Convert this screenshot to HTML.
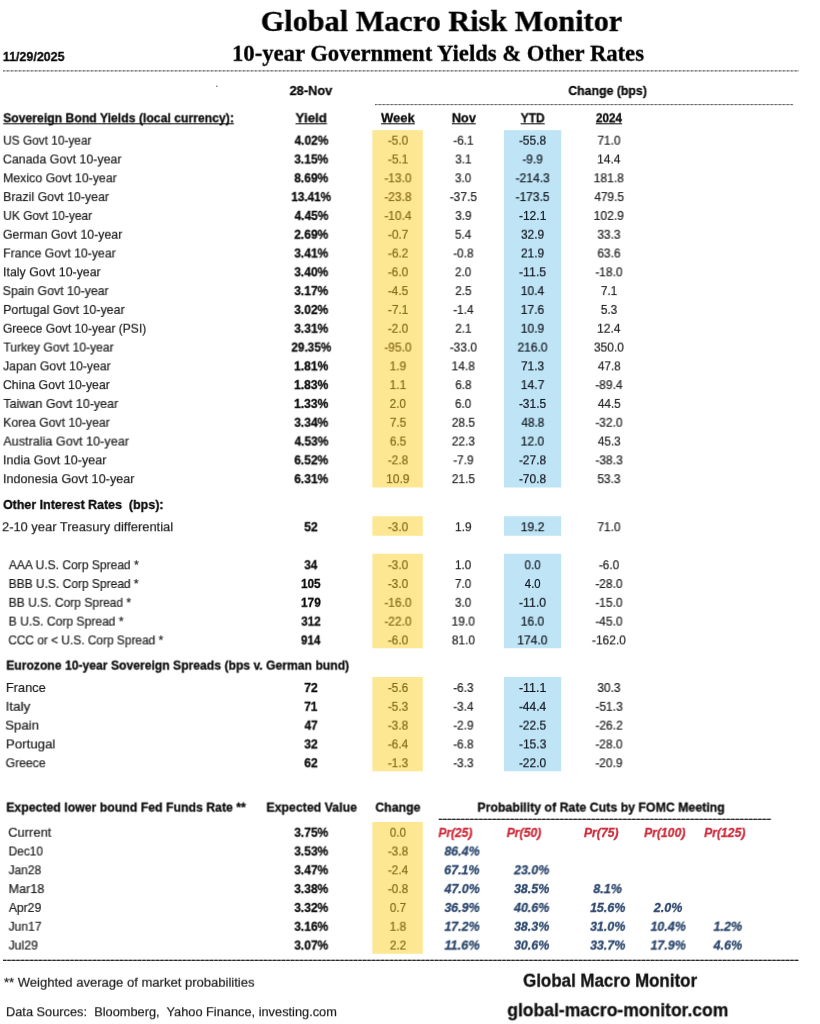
<!DOCTYPE html>
<html lang="en"><head><meta charset="utf-8"><title>Global Macro Risk Monitor</title>
<meta name="viewport" content="width=820">
<style>
html,body{margin:0;padding:0;background:#fff;}
body{width:820px;height:1024px;position:relative;overflow:hidden;font-family:"Liberation Sans", sans-serif;}
#sheet{position:absolute;left:0;top:0;width:820px;height:1024px;background:#fff;overflow:hidden;}
.t{position:absolute;left:0;top:0;white-space:pre;transform-origin:0 0;margin:0;padding:0;}
.u{text-decoration:underline;text-decoration-thickness:1px;text-underline-offset:0.5px;text-decoration-skip-ink:none;}
.t{-webkit-text-stroke:0.2px currentColor;}
.b{-webkit-text-stroke:0.3px currentColor;}
svg{position:absolute;left:0;top:0;}
</style></head>
<body>
<div id="sheet">
<svg width="820" height="1024" viewBox="0 0 820 1024" aria-hidden="true">
<rect x="372.4" y="130.15" width="50.40" height="357.35" fill="#fde793"/>
<rect x="504.0" y="130.15" width="57.20" height="357.35" fill="#bfe4f5"/>
<rect x="372.4" y="516.25" width="50.40" height="19.50" fill="#fde793"/>
<rect x="504.0" y="516.25" width="57.20" height="19.50" fill="#bfe4f5"/>
<rect x="372.4" y="553.75" width="50.40" height="94.50" fill="#fde793"/>
<rect x="504.0" y="553.75" width="57.20" height="94.50" fill="#bfe4f5"/>
<rect x="372.4" y="677.0" width="50.40" height="94.25" fill="#fde793"/>
<rect x="504.0" y="677.0" width="57.20" height="94.25" fill="#bfe4f5"/>
<rect x="372.4" y="822.0" width="50.40" height="131.75" fill="#fde793"/>
<line x1="3" y1="70.9" x2="799" y2="70.9" stroke="#8e8e8e" stroke-width="0.9"/>
<line x1="3" y1="70.9" x2="799" y2="70.9" stroke="#505050" stroke-width="0.9" stroke-dasharray="1.5 2.5"/>
<line x1="375" y1="104.6" x2="793.2" y2="104.6" stroke="#8e8e8e" stroke-width="0.9"/>
<line x1="375" y1="104.6" x2="793.2" y2="104.6" stroke="#505050" stroke-width="0.9" stroke-dasharray="1.5 2.5"/>
<line x1="438.75" y1="819.3" x2="771.25" y2="819.3" stroke="#4a4a4a" stroke-width="1.0"/>
<line x1="438.75" y1="819.3" x2="771.25" y2="819.3" stroke="#1a1a1a" stroke-width="1.0" stroke-dasharray="3 1.5"/>
<line x1="3" y1="960.3" x2="798.75" y2="960.3" stroke="#4a4a4a" stroke-width="1.0"/>
<line x1="3" y1="960.3" x2="798.75" y2="960.3" stroke="#1a1a1a" stroke-width="1.0" stroke-dasharray="3 1.5"/>
<circle cx="216.8" cy="86.3" r="0.8" fill="#666"/>
</svg>
<h1 class="t b" style='font-size:29.0px;line-height:36px;color:#000;transform:translate(260.74px,2.90px) rotateX(0.001deg) scaleX(1.0427);font-weight:700;font-family:"Liberation Serif", serif;'>Global Macro Risk Monitor</h1>
<h2 class="t b" style='font-size:22.2px;line-height:28px;color:#000;transform:translate(232.01px,39.80px) rotateX(0.001deg) scaleX(1.0207);font-weight:700;font-family:"Liberation Serif", serif;'>10-year Government Yields &amp; Other Rates</h2>
<span class="t b" style='font-size:13.4px;line-height:17px;color:#0a0a0a;transform:translate(2.80px,48.00px) rotateX(0.001deg) scaleX(0.9303);font-weight:700;'>11/29/2025</span>
<span class="t b" style='font-size:13.4px;line-height:17px;color:#0a0a0a;transform:translate(289.52px,82.00px) rotateX(0.001deg) scaleX(0.9543);font-weight:700;'>28-Nov</span>
<span class="t b" style='font-size:13.4px;line-height:17px;color:#0a0a0a;transform:translate(568.29px,82.00px) rotateX(0.001deg) scaleX(0.9189);font-weight:700;'>Change (bps)</span>
<span class="t b u" style='font-size:13.4px;line-height:17px;color:#0a0a0a;transform:translate(3.12px,109.30px) rotateX(0.001deg) scaleX(0.9122);font-weight:700;'>Sovereign Bond Yields (local currency):</span>
<span class="t b u" style='font-size:13.4px;line-height:17px;color:#0a0a0a;transform:translate(295.50px,109.30px) rotateX(0.001deg) scaleX(1.0000);font-weight:700;'>Yield</span>
<span class="t b u" style='font-size:13.4px;line-height:17px;color:#0a0a0a;transform:translate(381.01px,109.30px) rotateX(0.001deg) scaleX(0.9708);font-weight:700;'>Week</span>
<span class="t b u" style='font-size:13.4px;line-height:17px;color:#0a0a0a;transform:translate(451.79px,109.30px) rotateX(0.001deg) scaleX(0.9485);font-weight:700;'>Nov</span>
<span class="t b u" style='font-size:13.4px;line-height:17px;color:#0a0a0a;transform:translate(520.57px,109.30px) rotateX(0.001deg) scaleX(0.9020);font-weight:700;'>YTD</span>
<span class="t b u" style='font-size:13.4px;line-height:17px;color:#0a0a0a;transform:translate(595.81px,109.30px) rotateX(0.001deg) scaleX(0.8803);font-weight:700;'>2024</span>
<span class="t" style='font-size:13.4px;line-height:17px;color:#1c1c1c;transform:translate(3.22px,131.67px) rotateX(0.001deg) scaleX(0.8848);'>US Govt 10-year</span>
<span class="t b" style='font-size:13.4px;line-height:17px;color:#0a0a0a;transform:translate(294.43px,131.67px) rotateX(0.001deg) scaleX(0.8940);font-weight:700;'>4.02%</span>
<span class="t" style='font-size:13.4px;line-height:17px;color:#846a1a;transform:translate(387.74px,131.67px) rotateX(0.001deg) scaleX(0.8828);'>-5.0</span>
<span class="t" style='font-size:13.4px;line-height:17px;color:#1c1c1c;transform:translate(453.13px,131.67px) rotateX(0.001deg) scaleX(0.8930);'>-6.1</span>
<span class="t" style='font-size:13.4px;line-height:17px;color:#0e141e;transform:translate(518.88px,131.67px) rotateX(0.001deg) scaleX(0.8923);'>-55.8</span>
<span class="t" style='font-size:13.4px;line-height:17px;color:#1c1c1c;transform:translate(597.28px,131.67px) rotateX(0.001deg) scaleX(0.8929);'>71.0</span>
<span class="t" style='font-size:13.4px;line-height:17px;color:#1c1c1c;transform:translate(2.80px,150.47px) rotateX(0.001deg) scaleX(0.9272);'>Canada Govt 10-year</span>
<span class="t b" style='font-size:13.4px;line-height:17px;color:#0a0a0a;transform:translate(294.20px,150.47px) rotateX(0.001deg) scaleX(0.9000);font-weight:700;'>3.15%</span>
<span class="t" style='font-size:13.4px;line-height:17px;color:#846a1a;transform:translate(387.73px,150.47px) rotateX(0.001deg) scaleX(0.8930);'>-5.1</span>
<span class="t" style='font-size:13.4px;line-height:17px;color:#1c1c1c;transform:translate(455.14px,150.47px) rotateX(0.001deg) scaleX(0.8812);'>3.1</span>
<span class="t" style='font-size:13.4px;line-height:17px;color:#0e141e;transform:translate(522.34px,150.47px) rotateX(0.001deg) scaleX(0.8828);'>-9.9</span>
<span class="t" style='font-size:13.4px;line-height:17px;color:#1c1c1c;transform:translate(597.05px,150.47px) rotateX(0.001deg) scaleX(0.9020);'>14.4</span>
<span class="t" style='font-size:13.4px;line-height:17px;color:#1c1c1c;transform:translate(3.18px,169.28px) rotateX(0.001deg) scaleX(0.9194);'>Mexico Govt 10-year</span>
<span class="t b" style='font-size:13.4px;line-height:17px;color:#0a0a0a;transform:translate(294.20px,169.28px) rotateX(0.001deg) scaleX(0.9000);font-weight:700;'>8.69%</span>
<span class="t" style='font-size:13.4px;line-height:17px;color:#846a1a;transform:translate(384.28px,169.28px) rotateX(0.001deg) scaleX(0.8923);'>-13.0</span>
<span class="t" style='font-size:13.4px;line-height:17px;color:#1c1c1c;transform:translate(455.15px,169.28px) rotateX(0.001deg) scaleX(0.8686);'>3.0</span>
<span class="t" style='font-size:13.4px;line-height:17px;color:#0e141e;transform:translate(515.42px,169.28px) rotateX(0.001deg) scaleX(0.9041);'>-214.3</span>
<span class="t" style='font-size:13.4px;line-height:17px;color:#1c1c1c;transform:translate(593.59px,169.28px) rotateX(0.001deg) scaleX(0.9062);'>181.8</span>
<span class="t" style='font-size:13.4px;line-height:17px;color:#1c1c1c;transform:translate(3.18px,188.08px) rotateX(0.001deg) scaleX(0.9241);'>Brazil Govt 10-year</span>
<span class="t b" style='font-size:13.4px;line-height:17px;color:#0a0a0a;transform:translate(291.22px,188.08px) rotateX(0.001deg) scaleX(0.8780);font-weight:700;'>13.41%</span>
<span class="t" style='font-size:13.4px;line-height:17px;color:#846a1a;transform:translate(384.28px,188.08px) rotateX(0.001deg) scaleX(0.8923);'>-23.8</span>
<span class="t" style='font-size:13.4px;line-height:17px;color:#1c1c1c;transform:translate(449.68px,188.08px) rotateX(0.001deg) scaleX(0.8923);'>-37.5</span>
<span class="t" style='font-size:13.4px;line-height:17px;color:#0e141e;transform:translate(515.43px,188.08px) rotateX(0.001deg) scaleX(0.8980);'>-173.5</span>
<span class="t" style='font-size:13.4px;line-height:17px;color:#1c1c1c;transform:translate(594.28px,188.08px) rotateX(0.001deg) scaleX(0.8855);'>479.5</span>
<span class="t" style='font-size:13.4px;line-height:17px;color:#1c1c1c;transform:translate(3.21px,206.89px) rotateX(0.001deg) scaleX(0.8924);'>UK Govt 10-year</span>
<span class="t b" style='font-size:13.4px;line-height:17px;color:#0a0a0a;transform:translate(294.43px,206.89px) rotateX(0.001deg) scaleX(0.8940);font-weight:700;'>4.45%</span>
<span class="t" style='font-size:13.4px;line-height:17px;color:#846a1a;transform:translate(384.28px,206.89px) rotateX(0.001deg) scaleX(0.8923);'>-10.4</span>
<span class="t" style='font-size:13.4px;line-height:17px;color:#1c1c1c;transform:translate(455.14px,206.89px) rotateX(0.001deg) scaleX(0.8812);'>3.9</span>
<span class="t" style='font-size:13.4px;line-height:17px;color:#0e141e;transform:translate(518.88px,206.89px) rotateX(0.001deg) scaleX(0.9000);'>-12.1</span>
<span class="t" style='font-size:13.4px;line-height:17px;color:#1c1c1c;transform:translate(593.59px,206.89px) rotateX(0.001deg) scaleX(0.9062);'>102.9</span>
<span class="t" style='font-size:13.4px;line-height:17px;color:#1c1c1c;transform:translate(2.81px,225.69px) rotateX(0.001deg) scaleX(0.9222);'>German Govt 10-year</span>
<span class="t b" style='font-size:13.4px;line-height:17px;color:#0a0a0a;transform:translate(294.20px,225.69px) rotateX(0.001deg) scaleX(0.9000);font-weight:700;'>2.69%</span>
<span class="t" style='font-size:13.4px;line-height:17px;color:#846a1a;transform:translate(387.73px,225.69px) rotateX(0.001deg) scaleX(0.8930);'>-0.7</span>
<span class="t" style='font-size:13.4px;line-height:17px;color:#1c1c1c;transform:translate(455.15px,225.69px) rotateX(0.001deg) scaleX(0.8686);'>5.4</span>
<span class="t" style='font-size:13.4px;line-height:17px;color:#0e141e;transform:translate(520.88px,225.69px) rotateX(0.001deg) scaleX(0.8929);'>32.9</span>
<span class="t" style='font-size:13.4px;line-height:17px;color:#1c1c1c;transform:translate(597.28px,225.69px) rotateX(0.001deg) scaleX(0.8929);'>33.3</span>
<span class="t" style='font-size:13.4px;line-height:17px;color:#1c1c1c;transform:translate(3.18px,244.49px) rotateX(0.001deg) scaleX(0.9169);'>France Govt 10-year</span>
<span class="t b" style='font-size:13.4px;line-height:17px;color:#0a0a0a;transform:translate(294.20px,244.49px) rotateX(0.001deg) scaleX(0.9000);font-weight:700;'>3.41%</span>
<span class="t" style='font-size:13.4px;line-height:17px;color:#846a1a;transform:translate(387.73px,244.49px) rotateX(0.001deg) scaleX(0.8930);'>-6.2</span>
<span class="t" style='font-size:13.4px;line-height:17px;color:#1c1c1c;transform:translate(453.14px,244.49px) rotateX(0.001deg) scaleX(0.8828);'>-0.8</span>
<span class="t" style='font-size:13.4px;line-height:17px;color:#0e141e;transform:translate(520.88px,244.49px) rotateX(0.001deg) scaleX(0.8929);'>21.9</span>
<span class="t" style='font-size:13.4px;line-height:17px;color:#1c1c1c;transform:translate(597.28px,244.49px) rotateX(0.001deg) scaleX(0.8929);'>63.6</span>
<span class="t" style='font-size:13.4px;line-height:17px;color:#1c1c1c;transform:translate(2.94px,263.30px) rotateX(0.001deg) scaleX(0.9247);'>Italy Govt 10-year</span>
<span class="t b" style='font-size:13.4px;line-height:17px;color:#0a0a0a;transform:translate(294.20px,263.30px) rotateX(0.001deg) scaleX(0.9000);font-weight:700;'>3.40%</span>
<span class="t" style='font-size:13.4px;line-height:17px;color:#846a1a;transform:translate(387.74px,263.30px) rotateX(0.001deg) scaleX(0.8828);'>-6.0</span>
<span class="t" style='font-size:13.4px;line-height:17px;color:#1c1c1c;transform:translate(455.15px,263.30px) rotateX(0.001deg) scaleX(0.8686);'>2.0</span>
<span class="t" style='font-size:13.4px;line-height:17px;color:#0e141e;transform:translate(518.86px,263.30px) rotateX(0.001deg) scaleX(0.9239);'>-11.5</span>
<span class="t" style='font-size:13.4px;line-height:17px;color:#1c1c1c;transform:translate(595.28px,263.30px) rotateX(0.001deg) scaleX(0.8923);'>-18.0</span>
<span class="t" style='font-size:13.4px;line-height:17px;color:#1c1c1c;transform:translate(2.58px,282.10px) rotateX(0.001deg) scaleX(0.9190);'>Spain Govt 10-year</span>
<span class="t b" style='font-size:13.4px;line-height:17px;color:#0a0a0a;transform:translate(294.20px,282.10px) rotateX(0.001deg) scaleX(0.9000);font-weight:700;'>3.17%</span>
<span class="t" style='font-size:13.4px;line-height:17px;color:#846a1a;transform:translate(387.74px,282.10px) rotateX(0.001deg) scaleX(0.8828);'>-4.5</span>
<span class="t" style='font-size:13.4px;line-height:17px;color:#1c1c1c;transform:translate(455.14px,282.10px) rotateX(0.001deg) scaleX(0.8812);'>2.5</span>
<span class="t" style='font-size:13.4px;line-height:17px;color:#0e141e;transform:translate(520.65px,282.10px) rotateX(0.001deg) scaleX(0.9020);'>10.4</span>
<span class="t" style='font-size:13.4px;line-height:17px;color:#1c1c1c;transform:translate(600.74px,282.10px) rotateX(0.001deg) scaleX(0.8812);'>7.1</span>
<span class="t" style='font-size:13.4px;line-height:17px;color:#1c1c1c;transform:translate(3.17px,300.91px) rotateX(0.001deg) scaleX(0.9279);'>Portugal Govt 10-year</span>
<span class="t b" style='font-size:13.4px;line-height:17px;color:#0a0a0a;transform:translate(294.20px,300.91px) rotateX(0.001deg) scaleX(0.9000);font-weight:700;'>3.02%</span>
<span class="t" style='font-size:13.4px;line-height:17px;color:#846a1a;transform:translate(387.73px,300.91px) rotateX(0.001deg) scaleX(0.8930);'>-7.1</span>
<span class="t" style='font-size:13.4px;line-height:17px;color:#1c1c1c;transform:translate(453.14px,300.91px) rotateX(0.001deg) scaleX(0.8828);'>-1.4</span>
<span class="t" style='font-size:13.4px;line-height:17px;color:#0e141e;transform:translate(520.65px,300.91px) rotateX(0.001deg) scaleX(0.9020);'>17.6</span>
<span class="t" style='font-size:13.4px;line-height:17px;color:#1c1c1c;transform:translate(600.74px,300.91px) rotateX(0.001deg) scaleX(0.8812);'>5.3</span>
<span class="t" style='font-size:13.4px;line-height:17px;color:#1c1c1c;transform:translate(2.82px,319.71px) rotateX(0.001deg) scaleX(0.9002);'>Greece Govt 10-year (PSI)</span>
<span class="t b" style='font-size:13.4px;line-height:17px;color:#0a0a0a;transform:translate(294.20px,319.71px) rotateX(0.001deg) scaleX(0.9000);font-weight:700;'>3.31%</span>
<span class="t" style='font-size:13.4px;line-height:17px;color:#846a1a;transform:translate(387.74px,319.71px) rotateX(0.001deg) scaleX(0.8828);'>-2.0</span>
<span class="t" style='font-size:13.4px;line-height:17px;color:#1c1c1c;transform:translate(455.14px,319.71px) rotateX(0.001deg) scaleX(0.8812);'>2.1</span>
<span class="t" style='font-size:13.4px;line-height:17px;color:#0e141e;transform:translate(520.65px,319.71px) rotateX(0.001deg) scaleX(0.9020);'>10.9</span>
<span class="t" style='font-size:13.4px;line-height:17px;color:#1c1c1c;transform:translate(597.05px,319.71px) rotateX(0.001deg) scaleX(0.9020);'>12.4</span>
<span class="t" style='font-size:13.4px;line-height:17px;color:#1c1c1c;transform:translate(3.27px,338.51px) rotateX(0.001deg) scaleX(0.9091);'>Turkey Govt 10-year</span>
<span class="t b" style='font-size:13.4px;line-height:17px;color:#0a0a0a;transform:translate(291.44px,338.51px) rotateX(0.001deg) scaleX(0.8730);font-weight:700;'>29.35%</span>
<span class="t" style='font-size:13.4px;line-height:17px;color:#846a1a;transform:translate(384.28px,338.51px) rotateX(0.001deg) scaleX(0.8923);'>-95.0</span>
<span class="t" style='font-size:13.4px;line-height:17px;color:#1c1c1c;transform:translate(449.68px,338.51px) rotateX(0.001deg) scaleX(0.8923);'>-33.0</span>
<span class="t" style='font-size:13.4px;line-height:17px;color:#0e141e;transform:translate(517.43px,338.51px) rotateX(0.001deg) scaleX(0.8992);'>216.0</span>
<span class="t" style='font-size:13.4px;line-height:17px;color:#1c1c1c;transform:translate(593.83px,338.51px) rotateX(0.001deg) scaleX(0.8992);'>350.0</span>
<span class="t" style='font-size:13.4px;line-height:17px;color:#1c1c1c;transform:translate(3.04px,357.32px) rotateX(0.001deg) scaleX(0.9165);'>Japan Govt 10-year</span>
<span class="t b" style='font-size:13.4px;line-height:17px;color:#0a0a0a;transform:translate(293.97px,357.32px) rotateX(0.001deg) scaleX(0.9061);font-weight:700;'>1.81%</span>
<span class="t" style='font-size:13.4px;line-height:17px;color:#846a1a;transform:translate(389.51px,357.32px) rotateX(0.001deg) scaleX(0.8941);'>1.9</span>
<span class="t" style='font-size:13.4px;line-height:17px;color:#1c1c1c;transform:translate(451.45px,357.32px) rotateX(0.001deg) scaleX(0.9020);'>14.8</span>
<span class="t" style='font-size:13.4px;line-height:17px;color:#0e141e;transform:translate(520.88px,357.32px) rotateX(0.001deg) scaleX(0.8929);'>71.3</span>
<span class="t" style='font-size:13.4px;line-height:17px;color:#1c1c1c;transform:translate(597.73px,357.32px) rotateX(0.001deg) scaleX(0.8752);'>47.8</span>
<span class="t" style='font-size:13.4px;line-height:17px;color:#1c1c1c;transform:translate(2.81px,376.12px) rotateX(0.001deg) scaleX(0.9217);'>China Govt 10-year</span>
<span class="t b" style='font-size:13.4px;line-height:17px;color:#0a0a0a;transform:translate(293.97px,376.12px) rotateX(0.001deg) scaleX(0.9061);font-weight:700;'>1.83%</span>
<span class="t" style='font-size:13.4px;line-height:17px;color:#846a1a;transform:translate(389.51px,376.12px) rotateX(0.001deg) scaleX(0.8941);'>1.1</span>
<span class="t" style='font-size:13.4px;line-height:17px;color:#1c1c1c;transform:translate(455.14px,376.12px) rotateX(0.001deg) scaleX(0.8812);'>6.8</span>
<span class="t" style='font-size:13.4px;line-height:17px;color:#0e141e;transform:translate(520.64px,376.12px) rotateX(0.001deg) scaleX(0.9113);'>14.7</span>
<span class="t" style='font-size:13.4px;line-height:17px;color:#1c1c1c;transform:translate(595.28px,376.12px) rotateX(0.001deg) scaleX(0.8923);'>-89.4</span>
<span class="t" style='font-size:13.4px;line-height:17px;color:#1c1c1c;transform:translate(3.27px,394.93px) rotateX(0.001deg) scaleX(0.9366);'>Taiwan Govt 10-year</span>
<span class="t b" style='font-size:13.4px;line-height:17px;color:#0a0a0a;transform:translate(293.97px,394.93px) rotateX(0.001deg) scaleX(0.9061);font-weight:700;'>1.33%</span>
<span class="t" style='font-size:13.4px;line-height:17px;color:#846a1a;transform:translate(389.75px,394.93px) rotateX(0.001deg) scaleX(0.8686);'>2.0</span>
<span class="t" style='font-size:13.4px;line-height:17px;color:#1c1c1c;transform:translate(455.15px,394.93px) rotateX(0.001deg) scaleX(0.8686);'>6.0</span>
<span class="t" style='font-size:13.4px;line-height:17px;color:#0e141e;transform:translate(518.88px,394.93px) rotateX(0.001deg) scaleX(0.8923);'>-31.5</span>
<span class="t" style='font-size:13.4px;line-height:17px;color:#1c1c1c;transform:translate(597.73px,394.93px) rotateX(0.001deg) scaleX(0.8752);'>44.5</span>
<span class="t" style='font-size:13.4px;line-height:17px;color:#1c1c1c;transform:translate(3.19px,413.73px) rotateX(0.001deg) scaleX(0.9126);'>Korea Govt 10-year</span>
<span class="t b" style='font-size:13.4px;line-height:17px;color:#0a0a0a;transform:translate(294.20px,413.73px) rotateX(0.001deg) scaleX(0.9000);font-weight:700;'>3.34%</span>
<span class="t" style='font-size:13.4px;line-height:17px;color:#846a1a;transform:translate(389.74px,413.73px) rotateX(0.001deg) scaleX(0.8812);'>7.5</span>
<span class="t" style='font-size:13.4px;line-height:17px;color:#1c1c1c;transform:translate(451.68px,413.73px) rotateX(0.001deg) scaleX(0.8929);'>28.5</span>
<span class="t" style='font-size:13.4px;line-height:17px;color:#0e141e;transform:translate(521.33px,413.73px) rotateX(0.001deg) scaleX(0.8752);'>48.8</span>
<span class="t" style='font-size:13.4px;line-height:17px;color:#1c1c1c;transform:translate(595.28px,413.73px) rotateX(0.001deg) scaleX(0.8923);'>-32.0</span>
<span class="t" style='font-size:13.4px;line-height:17px;color:#1c1c1c;transform:translate(3.26px,432.53px) rotateX(0.001deg) scaleX(0.9435);'>Australia Govt 10-year</span>
<span class="t b" style='font-size:13.4px;line-height:17px;color:#0a0a0a;transform:translate(294.43px,432.53px) rotateX(0.001deg) scaleX(0.8940);font-weight:700;'>4.53%</span>
<span class="t" style='font-size:13.4px;line-height:17px;color:#846a1a;transform:translate(389.74px,432.53px) rotateX(0.001deg) scaleX(0.8812);'>6.5</span>
<span class="t" style='font-size:13.4px;line-height:17px;color:#1c1c1c;transform:translate(451.68px,432.53px) rotateX(0.001deg) scaleX(0.8929);'>22.3</span>
<span class="t" style='font-size:13.4px;line-height:17px;color:#0e141e;transform:translate(520.65px,432.53px) rotateX(0.001deg) scaleX(0.9020);'>12.0</span>
<span class="t" style='font-size:13.4px;line-height:17px;color:#1c1c1c;transform:translate(597.73px,432.53px) rotateX(0.001deg) scaleX(0.8752);'>45.3</span>
<span class="t" style='font-size:13.4px;line-height:17px;color:#1c1c1c;transform:translate(2.93px,451.34px) rotateX(0.001deg) scaleX(0.9393);'>India Govt 10-year</span>
<span class="t b" style='font-size:13.4px;line-height:17px;color:#0a0a0a;transform:translate(294.20px,451.34px) rotateX(0.001deg) scaleX(0.9000);font-weight:700;'>6.52%</span>
<span class="t" style='font-size:13.4px;line-height:17px;color:#846a1a;transform:translate(387.74px,451.34px) rotateX(0.001deg) scaleX(0.8828);'>-2.8</span>
<span class="t" style='font-size:13.4px;line-height:17px;color:#1c1c1c;transform:translate(453.14px,451.34px) rotateX(0.001deg) scaleX(0.8828);'>-7.9</span>
<span class="t" style='font-size:13.4px;line-height:17px;color:#0e141e;transform:translate(518.88px,451.34px) rotateX(0.001deg) scaleX(0.8923);'>-27.8</span>
<span class="t" style='font-size:13.4px;line-height:17px;color:#1c1c1c;transform:translate(595.28px,451.34px) rotateX(0.001deg) scaleX(0.9000);'>-38.3</span>
<span class="t" style='font-size:13.4px;line-height:17px;color:#1c1c1c;transform:translate(2.92px,470.14px) rotateX(0.001deg) scaleX(0.9448);'>Indonesia Govt 10-year</span>
<span class="t b" style='font-size:13.4px;line-height:17px;color:#0a0a0a;transform:translate(294.20px,470.14px) rotateX(0.001deg) scaleX(0.9000);font-weight:700;'>6.31%</span>
<span class="t" style='font-size:13.4px;line-height:17px;color:#846a1a;transform:translate(386.05px,470.14px) rotateX(0.001deg) scaleX(0.9020);'>10.9</span>
<span class="t" style='font-size:13.4px;line-height:17px;color:#1c1c1c;transform:translate(451.68px,470.14px) rotateX(0.001deg) scaleX(0.8929);'>21.5</span>
<span class="t" style='font-size:13.4px;line-height:17px;color:#0e141e;transform:translate(518.88px,470.14px) rotateX(0.001deg) scaleX(0.8923);'>-70.8</span>
<span class="t" style='font-size:13.4px;line-height:17px;color:#1c1c1c;transform:translate(597.28px,470.14px) rotateX(0.001deg) scaleX(0.8929);'>53.3</span>
<span class="t b" style='font-size:13.4px;line-height:17px;color:#0a0a0a;transform:translate(3.04px,496.00px) rotateX(0.001deg) scaleX(0.9298);font-weight:700;'>Other Interest Rates  (bps):</span>
<span class="t" style='font-size:13.4px;line-height:17px;color:#1c1c1c;transform:translate(1.98px,518.20px) rotateX(0.001deg) scaleX(0.9634);'>2-10 year Treasury differential</span>
<span class="t b" style='font-size:13.4px;line-height:17px;color:#0a0a0a;transform:translate(304.14px,518.20px) rotateX(0.001deg) scaleX(0.9164);font-weight:700;'>52</span>
<span class="t" style='font-size:13.4px;line-height:17px;color:#846a1a;transform:translate(387.74px,518.20px) rotateX(0.001deg) scaleX(0.8828);'>-3.0</span>
<span class="t" style='font-size:13.4px;line-height:17px;color:#1c1c1c;transform:translate(454.91px,518.20px) rotateX(0.001deg) scaleX(0.8941);'>1.9</span>
<span class="t" style='font-size:13.4px;line-height:17px;color:#0e141e;transform:translate(520.64px,518.20px) rotateX(0.001deg) scaleX(0.9113);'>19.2</span>
<span class="t" style='font-size:13.4px;line-height:17px;color:#1c1c1c;transform:translate(597.28px,518.20px) rotateX(0.001deg) scaleX(0.8929);'>71.0</span>
<span class="t" style='font-size:13.4px;line-height:17px;color:#1c1c1c;transform:translate(8.68px,556.20px) rotateX(0.001deg) scaleX(0.8998);'>AAA U.S. Corp Spread *</span>
<span class="t b" style='font-size:13.4px;line-height:17px;color:#0a0a0a;transform:translate(304.16px,556.20px) rotateX(0.001deg) scaleX(0.8842);font-weight:700;'>34</span>
<span class="t" style='font-size:13.4px;line-height:17px;color:#846a1a;transform:translate(387.74px,556.20px) rotateX(0.001deg) scaleX(0.8828);'>-3.0</span>
<span class="t" style='font-size:13.4px;line-height:17px;color:#1c1c1c;transform:translate(454.92px,556.20px) rotateX(0.001deg) scaleX(0.8812);'>1.0</span>
<span class="t" style='font-size:13.4px;line-height:17px;color:#0e141e;transform:translate(524.57px,556.20px) rotateX(0.001deg) scaleX(0.8563);'>0.0</span>
<span class="t" style='font-size:13.4px;line-height:17px;color:#1c1c1c;transform:translate(598.74px,556.20px) rotateX(0.001deg) scaleX(0.8828);'>-6.0</span>
<span class="t" style='font-size:13.4px;line-height:17px;color:#1c1c1c;transform:translate(8.60px,575.00px) rotateX(0.001deg) scaleX(0.8957);'>BBB U.S. Corp Spread *</span>
<span class="t b" style='font-size:13.4px;line-height:17px;color:#0a0a0a;transform:translate(300.89px,575.00px) rotateX(0.001deg) scaleX(0.8800);font-weight:700;'>105</span>
<span class="t" style='font-size:13.4px;line-height:17px;color:#846a1a;transform:translate(387.74px,575.00px) rotateX(0.001deg) scaleX(0.8828);'>-3.0</span>
<span class="t" style='font-size:13.4px;line-height:17px;color:#1c1c1c;transform:translate(455.15px,575.00px) rotateX(0.001deg) scaleX(0.8686);'>7.0</span>
<span class="t" style='font-size:13.4px;line-height:17px;color:#0e141e;transform:translate(524.79px,575.00px) rotateX(0.001deg) scaleX(0.8444);'>4.0</span>
<span class="t" style='font-size:13.4px;line-height:17px;color:#1c1c1c;transform:translate(595.28px,575.00px) rotateX(0.001deg) scaleX(0.8923);'>-28.0</span>
<span class="t" style='font-size:13.4px;line-height:17px;color:#1c1c1c;transform:translate(8.60px,593.81px) rotateX(0.001deg) scaleX(0.8998);'>BB U.S. Corp Spread *</span>
<span class="t b" style='font-size:13.4px;line-height:17px;color:#0a0a0a;transform:translate(300.88px,593.81px) rotateX(0.001deg) scaleX(0.8905);font-weight:700;'>179</span>
<span class="t" style='font-size:13.4px;line-height:17px;color:#846a1a;transform:translate(384.28px,593.81px) rotateX(0.001deg) scaleX(0.8923);'>-16.0</span>
<span class="t" style='font-size:13.4px;line-height:17px;color:#1c1c1c;transform:translate(455.15px,593.81px) rotateX(0.001deg) scaleX(0.8686);'>3.0</span>
<span class="t" style='font-size:13.4px;line-height:17px;color:#0e141e;transform:translate(518.86px,593.81px) rotateX(0.001deg) scaleX(0.9239);'>-11.0</span>
<span class="t" style='font-size:13.4px;line-height:17px;color:#1c1c1c;transform:translate(595.28px,593.81px) rotateX(0.001deg) scaleX(0.8923);'>-15.0</span>
<span class="t" style='font-size:13.4px;line-height:17px;color:#1c1c1c;transform:translate(8.60px,612.61px) rotateX(0.001deg) scaleX(0.9028);'>B U.S. Corp Spread *</span>
<span class="t b" style='font-size:13.4px;line-height:17px;color:#0a0a0a;transform:translate(301.11px,612.61px) rotateX(0.001deg) scaleX(0.8800);font-weight:700;'>312</span>
<span class="t" style='font-size:13.4px;line-height:17px;color:#846a1a;transform:translate(384.28px,612.61px) rotateX(0.001deg) scaleX(0.8923);'>-22.0</span>
<span class="t" style='font-size:13.4px;line-height:17px;color:#1c1c1c;transform:translate(451.45px,612.61px) rotateX(0.001deg) scaleX(0.9020);'>19.0</span>
<span class="t" style='font-size:13.4px;line-height:17px;color:#0e141e;transform:translate(520.65px,612.61px) rotateX(0.001deg) scaleX(0.9020);'>16.0</span>
<span class="t" style='font-size:13.4px;line-height:17px;color:#1c1c1c;transform:translate(595.28px,612.61px) rotateX(0.001deg) scaleX(0.8923);'>-45.0</span>
<span class="t" style='font-size:13.4px;line-height:17px;color:#1c1c1c;transform:translate(8.23px,631.42px) rotateX(0.001deg) scaleX(0.8882);'>CCC or &lt; U.S. Corp Spread *</span>
<span class="t b" style='font-size:13.4px;line-height:17px;color:#0a0a0a;transform:translate(301.12px,631.42px) rotateX(0.001deg) scaleX(0.8598);font-weight:700;'>914</span>
<span class="t" style='font-size:13.4px;line-height:17px;color:#846a1a;transform:translate(387.74px,631.42px) rotateX(0.001deg) scaleX(0.8828);'>-6.0</span>
<span class="t" style='font-size:13.4px;line-height:17px;color:#1c1c1c;transform:translate(451.68px,631.42px) rotateX(0.001deg) scaleX(0.8929);'>81.0</span>
<span class="t" style='font-size:13.4px;line-height:17px;color:#0e141e;transform:translate(517.19px,631.42px) rotateX(0.001deg) scaleX(0.9062);'>174.0</span>
<span class="t" style='font-size:13.4px;line-height:17px;color:#1c1c1c;transform:translate(591.83px,631.42px) rotateX(0.001deg) scaleX(0.8980);'>-162.0</span>
<span class="t b" style='font-size:13.4px;line-height:17px;color:#0a0a0a;transform:translate(6.22px,656.60px) rotateX(0.001deg) scaleX(0.9080);font-weight:700;'>Eurozone 10-year Sovereign Spreads (bps v. German bund)</span>
<span class="t" style='font-size:13.4px;line-height:17px;color:#1c1c1c;transform:translate(5.84px,679.00px) rotateX(0.001deg) scaleX(0.9550);'>France</span>
<span class="t b" style='font-size:13.4px;line-height:17px;color:#0a0a0a;transform:translate(304.14px,679.00px) rotateX(0.001deg) scaleX(0.9164);font-weight:700;'>72</span>
<span class="t" style='font-size:13.4px;line-height:17px;color:#846a1a;transform:translate(387.74px,679.00px) rotateX(0.001deg) scaleX(0.8828);'>-5.6</span>
<span class="t" style='font-size:13.4px;line-height:17px;color:#1c1c1c;transform:translate(453.14px,679.00px) rotateX(0.001deg) scaleX(0.8828);'>-6.3</span>
<span class="t" style='font-size:13.4px;line-height:17px;color:#0e141e;transform:translate(518.85px,679.00px) rotateX(0.001deg) scaleX(0.9321);'>-11.1</span>
<span class="t" style='font-size:13.4px;line-height:17px;color:#1c1c1c;transform:translate(597.28px,679.00px) rotateX(0.001deg) scaleX(0.8929);'>30.3</span>
<span class="t" style='font-size:13.4px;line-height:17px;color:#1c1c1c;transform:translate(5.54px,697.80px) rotateX(0.001deg) scaleX(1.0087);'>Italy</span>
<span class="t b" style='font-size:13.4px;line-height:17px;color:#0a0a0a;transform:translate(304.15px,697.80px) rotateX(0.001deg) scaleX(0.9000);font-weight:700;'>71</span>
<span class="t" style='font-size:13.4px;line-height:17px;color:#846a1a;transform:translate(387.74px,697.80px) rotateX(0.001deg) scaleX(0.8828);'>-5.3</span>
<span class="t" style='font-size:13.4px;line-height:17px;color:#1c1c1c;transform:translate(453.14px,697.80px) rotateX(0.001deg) scaleX(0.8828);'>-3.4</span>
<span class="t" style='font-size:13.4px;line-height:17px;color:#0e141e;transform:translate(518.88px,697.80px) rotateX(0.001deg) scaleX(0.8923);'>-44.4</span>
<span class="t" style='font-size:13.4px;line-height:17px;color:#1c1c1c;transform:translate(595.28px,697.80px) rotateX(0.001deg) scaleX(0.9000);'>-51.3</span>
<span class="t" style='font-size:13.4px;line-height:17px;color:#1c1c1c;transform:translate(5.21px,716.61px) rotateX(0.001deg) scaleX(0.9862);'>Spain</span>
<span class="t b" style='font-size:13.4px;line-height:17px;color:#0a0a0a;transform:translate(304.38px,716.61px) rotateX(0.001deg) scaleX(0.9000);font-weight:700;'>47</span>
<span class="t" style='font-size:13.4px;line-height:17px;color:#846a1a;transform:translate(387.74px,716.61px) rotateX(0.001deg) scaleX(0.8828);'>-3.8</span>
<span class="t" style='font-size:13.4px;line-height:17px;color:#1c1c1c;transform:translate(453.14px,716.61px) rotateX(0.001deg) scaleX(0.8828);'>-2.9</span>
<span class="t" style='font-size:13.4px;line-height:17px;color:#0e141e;transform:translate(518.88px,716.61px) rotateX(0.001deg) scaleX(0.8923);'>-22.5</span>
<span class="t" style='font-size:13.4px;line-height:17px;color:#1c1c1c;transform:translate(595.28px,716.61px) rotateX(0.001deg) scaleX(0.9000);'>-26.2</span>
<span class="t" style='font-size:13.4px;line-height:17px;color:#1c1c1c;transform:translate(5.81px,735.41px) rotateX(0.001deg) scaleX(0.9938);'>Portugal</span>
<span class="t b" style='font-size:13.4px;line-height:17px;color:#0a0a0a;transform:translate(304.14px,735.41px) rotateX(0.001deg) scaleX(0.9164);font-weight:700;'>32</span>
<span class="t" style='font-size:13.4px;line-height:17px;color:#846a1a;transform:translate(387.74px,735.41px) rotateX(0.001deg) scaleX(0.8828);'>-6.4</span>
<span class="t" style='font-size:13.4px;line-height:17px;color:#1c1c1c;transform:translate(453.14px,735.41px) rotateX(0.001deg) scaleX(0.8828);'>-6.8</span>
<span class="t" style='font-size:13.4px;line-height:17px;color:#0e141e;transform:translate(518.88px,735.41px) rotateX(0.001deg) scaleX(0.9000);'>-15.3</span>
<span class="t" style='font-size:13.4px;line-height:17px;color:#1c1c1c;transform:translate(595.28px,735.41px) rotateX(0.001deg) scaleX(0.8923);'>-28.0</span>
<span class="t" style='font-size:13.4px;line-height:17px;color:#1c1c1c;transform:translate(5.52px,754.22px) rotateX(0.001deg) scaleX(0.9129);'>Greece</span>
<span class="t b" style='font-size:13.4px;line-height:17px;color:#0a0a0a;transform:translate(304.14px,754.22px) rotateX(0.001deg) scaleX(0.9164);font-weight:700;'>62</span>
<span class="t" style='font-size:13.4px;line-height:17px;color:#846a1a;transform:translate(387.74px,754.22px) rotateX(0.001deg) scaleX(0.8828);'>-1.3</span>
<span class="t" style='font-size:13.4px;line-height:17px;color:#1c1c1c;transform:translate(453.14px,754.22px) rotateX(0.001deg) scaleX(0.8828);'>-3.3</span>
<span class="t" style='font-size:13.4px;line-height:17px;color:#0e141e;transform:translate(518.88px,754.22px) rotateX(0.001deg) scaleX(0.8923);'>-22.0</span>
<span class="t" style='font-size:13.4px;line-height:17px;color:#1c1c1c;transform:translate(595.28px,754.22px) rotateX(0.001deg) scaleX(0.8923);'>-20.9</span>
<span class="t b" style='font-size:13.4px;line-height:17px;color:#0a0a0a;transform:translate(6.21px,798.60px) rotateX(0.001deg) scaleX(0.9178);font-weight:700;'>Expected lower bound Fed Funds Rate **</span>
<span class="t b" style='font-size:13.4px;line-height:17px;color:#0a0a0a;transform:translate(266.31px,798.60px) rotateX(0.001deg) scaleX(0.9227);font-weight:700;'>Expected Value</span>
<span class="t b" style='font-size:13.4px;line-height:17px;color:#0a0a0a;transform:translate(375.29px,798.60px) rotateX(0.001deg) scaleX(0.9219);font-weight:700;'>Change</span>
<span class="t b" style='font-size:13.4px;line-height:17px;color:#0a0a0a;transform:translate(477.31px,798.60px) rotateX(0.001deg) scaleX(0.9214);font-weight:700;'>Probability of Rate Cuts by FOMC Meeting</span>
<span class="t" style='font-size:13.4px;line-height:17px;color:#1c1c1c;transform:translate(8.17px,823.70px) rotateX(0.001deg) scaleX(0.9680);'>Current</span>
<span class="t b" style='font-size:13.4px;line-height:17px;color:#0a0a0a;transform:translate(294.20px,823.70px) rotateX(0.001deg) scaleX(0.9000);font-weight:700;'>3.75%</span>
<span class="t" style='font-size:13.4px;line-height:17px;color:#846a1a;transform:translate(389.97px,823.70px) rotateX(0.001deg) scaleX(0.8563);'>0.0</span>
<span class="t" style='font-size:13.4px;line-height:17px;color:#1c1c1c;transform:translate(8.61px,842.50px) rotateX(0.001deg) scaleX(0.8859);'>Dec10</span>
<span class="t b" style='font-size:13.4px;line-height:17px;color:#0a0a0a;transform:translate(294.20px,842.50px) rotateX(0.001deg) scaleX(0.9000);font-weight:700;'>3.53%</span>
<span class="t" style='font-size:13.4px;line-height:17px;color:#846a1a;transform:translate(387.74px,842.50px) rotateX(0.001deg) scaleX(0.8828);'>-3.8</span>
<span class="t" style='font-size:13.4px;line-height:17px;color:#1c1c1c;transform:translate(8.45px,861.31px) rotateX(0.001deg) scaleX(0.8972);'>Jan28</span>
<span class="t b" style='font-size:13.4px;line-height:17px;color:#0a0a0a;transform:translate(294.20px,861.31px) rotateX(0.001deg) scaleX(0.9000);font-weight:700;'>3.47%</span>
<span class="t" style='font-size:13.4px;line-height:17px;color:#846a1a;transform:translate(387.74px,861.31px) rotateX(0.001deg) scaleX(0.8828);'>-2.4</span>
<span class="t" style='font-size:13.4px;line-height:17px;color:#1c1c1c;transform:translate(8.56px,880.11px) rotateX(0.001deg) scaleX(0.9448);'>Mar18</span>
<span class="t b" style='font-size:13.4px;line-height:17px;color:#0a0a0a;transform:translate(294.20px,880.11px) rotateX(0.001deg) scaleX(0.9000);font-weight:700;'>3.38%</span>
<span class="t" style='font-size:13.4px;line-height:17px;color:#846a1a;transform:translate(387.74px,880.11px) rotateX(0.001deg) scaleX(0.8828);'>-0.8</span>
<span class="t" style='font-size:13.4px;line-height:17px;color:#1c1c1c;transform:translate(8.67px,898.92px) rotateX(0.001deg) scaleX(0.9100);'>Apr29</span>
<span class="t b" style='font-size:13.4px;line-height:17px;color:#0a0a0a;transform:translate(294.20px,898.92px) rotateX(0.001deg) scaleX(0.9000);font-weight:700;'>3.32%</span>
<span class="t" style='font-size:13.4px;line-height:17px;color:#846a1a;transform:translate(389.97px,898.92px) rotateX(0.001deg) scaleX(0.8686);'>0.7</span>
<span class="t" style='font-size:13.4px;line-height:17px;color:#1c1c1c;transform:translate(8.45px,917.72px) rotateX(0.001deg) scaleX(0.9035);'>Jun17</span>
<span class="t b" style='font-size:13.4px;line-height:17px;color:#0a0a0a;transform:translate(294.20px,917.72px) rotateX(0.001deg) scaleX(0.9000);font-weight:700;'>3.16%</span>
<span class="t" style='font-size:13.4px;line-height:17px;color:#846a1a;transform:translate(389.51px,917.72px) rotateX(0.001deg) scaleX(0.8941);'>1.8</span>
<span class="t" style='font-size:13.4px;line-height:17px;color:#1c1c1c;transform:translate(8.44px,936.52px) rotateX(0.001deg) scaleX(0.9226);'>Jul29</span>
<span class="t b" style='font-size:13.4px;line-height:17px;color:#0a0a0a;transform:translate(294.20px,936.52px) rotateX(0.001deg) scaleX(0.9000);font-weight:700;'>3.07%</span>
<span class="t" style='font-size:13.4px;line-height:17px;color:#846a1a;transform:translate(389.74px,936.52px) rotateX(0.001deg) scaleX(0.8812);'>2.2</span>
<span class="t b" style='font-size:13.4px;line-height:17px;color:#cb2a39;transform:translate(438.30px,823.90px) rotateX(0.001deg) scaleX(0.8986);font-weight:700;font-style:italic;'>Pr(25)</span>
<span class="t b" style='font-size:13.4px;line-height:17px;color:#cb2a39;transform:translate(506.54px,823.90px) rotateX(0.001deg) scaleX(0.9122);font-weight:700;font-style:italic;'>Pr(50)</span>
<span class="t b" style='font-size:13.4px;line-height:17px;color:#cb2a39;transform:translate(583.79px,823.90px) rotateX(0.001deg) scaleX(0.9122);font-weight:700;font-style:italic;'>Pr(75)</span>
<span class="t b" style='font-size:13.4px;line-height:17px;color:#cb2a39;transform:translate(644.04px,823.90px) rotateX(0.001deg) scaleX(0.9101);font-weight:700;font-style:italic;'>Pr(100)</span>
<span class="t b" style='font-size:13.4px;line-height:17px;color:#cb2a39;transform:translate(704.04px,823.90px) rotateX(0.001deg) scaleX(0.9101);font-weight:700;font-style:italic;'>Pr(125)</span>
<span class="t b" style='font-size:13.4px;line-height:17px;color:#2b466b;transform:translate(444.34px,842.50px) rotateX(0.001deg) scaleX(0.9302);font-weight:700;font-style:italic;'>86.4%</span>
<span class="t b" style='font-size:13.4px;line-height:17px;color:#2b466b;transform:translate(444.11px,861.31px) rotateX(0.001deg) scaleX(0.9365);font-weight:700;font-style:italic;'>67.1%</span>
<span class="t b" style='font-size:13.4px;line-height:17px;color:#2b466b;transform:translate(514.17px,861.31px) rotateX(0.001deg) scaleX(0.9240);font-weight:700;font-style:italic;'>23.0%</span>
<span class="t b" style='font-size:13.4px;line-height:17px;color:#2b466b;transform:translate(444.57px,880.11px) rotateX(0.001deg) scaleX(0.9240);font-weight:700;font-style:italic;'>47.0%</span>
<span class="t b" style='font-size:13.4px;line-height:17px;color:#2b466b;transform:translate(513.94px,880.11px) rotateX(0.001deg) scaleX(0.9302);font-weight:700;font-style:italic;'>38.5%</span>
<span class="t b" style='font-size:13.4px;line-height:17px;color:#2b466b;transform:translate(593.24px,880.11px) rotateX(0.001deg) scaleX(0.9417);font-weight:700;font-style:italic;'>8.1%</span>
<span class="t b" style='font-size:13.4px;line-height:17px;color:#2b466b;transform:translate(444.34px,898.92px) rotateX(0.001deg) scaleX(0.9302);font-weight:700;font-style:italic;'>36.9%</span>
<span class="t b" style='font-size:13.4px;line-height:17px;color:#2b466b;transform:translate(514.17px,898.92px) rotateX(0.001deg) scaleX(0.9240);font-weight:700;font-style:italic;'>40.6%</span>
<span class="t b" style='font-size:13.4px;line-height:17px;color:#2b466b;transform:translate(590.04px,898.92px) rotateX(0.001deg) scaleX(0.9302);font-weight:700;font-style:italic;'>15.6%</span>
<span class="t b" style='font-size:13.4px;line-height:17px;color:#2b466b;transform:translate(653.88px,898.92px) rotateX(0.001deg) scaleX(0.9339);font-weight:700;font-style:italic;'>2.0%</span>
<span class="t b" style='font-size:13.4px;line-height:17px;color:#2b466b;transform:translate(444.34px,917.72px) rotateX(0.001deg) scaleX(0.9302);font-weight:700;font-style:italic;'>17.2%</span>
<span class="t b" style='font-size:13.4px;line-height:17px;color:#2b466b;transform:translate(513.94px,917.72px) rotateX(0.001deg) scaleX(0.9302);font-weight:700;font-style:italic;'>38.3%</span>
<span class="t b" style='font-size:13.4px;line-height:17px;color:#2b466b;transform:translate(590.04px,917.72px) rotateX(0.001deg) scaleX(0.9302);font-weight:700;font-style:italic;'>31.0%</span>
<span class="t b" style='font-size:13.4px;line-height:17px;color:#2b466b;transform:translate(650.44px,917.72px) rotateX(0.001deg) scaleX(0.9302);font-weight:700;font-style:italic;'>10.4%</span>
<span class="t b" style='font-size:13.4px;line-height:17px;color:#2b466b;transform:translate(713.39px,917.72px) rotateX(0.001deg) scaleX(0.9417);font-weight:700;font-style:italic;'>1.2%</span>
<span class="t b" style='font-size:13.4px;line-height:17px;color:#2b466b;transform:translate(444.34px,936.52px) rotateX(0.001deg) scaleX(0.9559);font-weight:700;font-style:italic;'>11.6%</span>
<span class="t b" style='font-size:13.4px;line-height:17px;color:#2b466b;transform:translate(513.94px,936.52px) rotateX(0.001deg) scaleX(0.9302);font-weight:700;font-style:italic;'>30.6%</span>
<span class="t b" style='font-size:13.4px;line-height:17px;color:#2b466b;transform:translate(590.04px,936.52px) rotateX(0.001deg) scaleX(0.9302);font-weight:700;font-style:italic;'>33.7%</span>
<span class="t b" style='font-size:13.4px;line-height:17px;color:#2b466b;transform:translate(650.44px,936.52px) rotateX(0.001deg) scaleX(0.9302);font-weight:700;font-style:italic;'>17.9%</span>
<span class="t b" style='font-size:13.4px;line-height:17px;color:#2b466b;transform:translate(713.62px,936.52px) rotateX(0.001deg) scaleX(0.9339);font-weight:700;font-style:italic;'>4.6%</span>
<span class="t" style='font-size:13.4px;line-height:17px;color:#1c1c1c;transform:translate(4.01px,973.70px) rotateX(0.001deg) scaleX(0.9737);'>** Weighted average of market probabilities</span>
<span class="t" style='font-size:13.4px;line-height:17px;color:#1c1c1c;transform:translate(5.94px,1003.20px) rotateX(0.001deg) scaleX(0.9553);'>Data Sources:  Bloomberg,  Yahoo Finance, investing.com</span>
<span class="t b" style='font-size:17.6px;line-height:22px;color:#111;transform:translate(523.03px,969.70px) rotateX(0.001deg) scaleX(0.9624);font-weight:700;'>Global Macro Monitor</span>
<span class="t b" style='font-size:17.6px;line-height:22px;color:#111;transform:translate(507.25px,999.20px) rotateX(0.001deg) scaleX(0.9966);font-weight:700;'>global-macro-monitor.com</span>
</div>
</body></html>
